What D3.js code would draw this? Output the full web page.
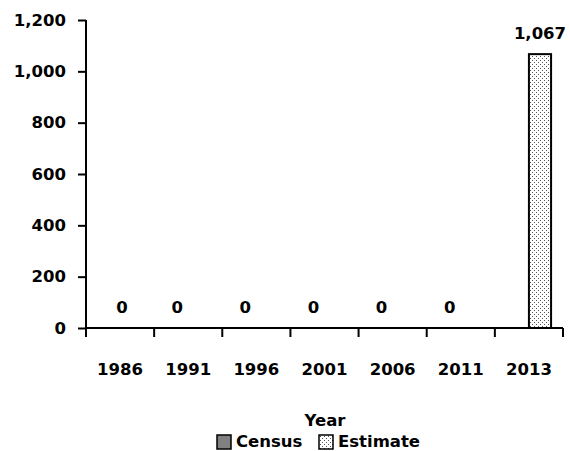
<!DOCTYPE html>
<html><head><meta charset="utf-8">
<script src="https://cdn.jsdelivr.net/npm/d3@7"></script>
<style>body{margin:0;background:#fff}svg{display:block}text{font-family:"DejaVu Sans",sans-serif;font-weight:bold;fill:#000}</style>
</head><body>
<svg id="c" width="570" height="451"></svg>
<script>
const years = ["1986","1991","1996","2001","2006","2011","2013"];
const series = ["Census","Estimate"];
const census = [0,0,0,0,0,0,null];
const estimate = [null,null,null,null,null,null,1067];
const yTicks = [0,200,400,600,800,1000,1200];
const xTitle = "Year";
const FS = 16.5;

const svg = d3.select("#c");
const defs = svg.append("defs");
const pat = defs.append("pattern").attr("id","dots").attr("width",4).attr("height",4).attr("patternUnits","userSpaceOnUse");
pat.append("rect").attr("width",4).attr("height",4).attr("fill","#fff");
pat.append("rect").attr("x",0).attr("y",0).attr("width",1).attr("height",1).attr("fill","#555");
pat.append("rect").attr("x",2).attr("y",2).attr("width",1).attr("height",1).attr("fill","#555");

const x = d3.scaleBand().domain(years).range([86,563]).padding(0);
const xs = d3.scaleBand().domain(series).range([x.bandwidth()*0.175, x.bandwidth()*0.825]);
const y = d3.scaleLinear().domain([0,1200]).range([328,20]);
const fills = {Census:"#808080", Estimate:"url(#dots)"};

const data = [];
years.forEach((yr,i)=>{
  [census[i],estimate[i]].forEach((v,j)=>{ if(v!==null) data.push({yr,s:series[j],v,i}); });
});

// bars
svg.append("g").selectAll("rect").data(data.filter(d=>d.v>0)).join("rect")
  .attr("x",d=>x(d.yr)+xs(d.s)).attr("width",xs.bandwidth())
  .attr("y",d=>y(d.v)).attr("height",d=>y(0)-y(d.v))
  .attr("fill",d=>fills[d.s]).attr("stroke","#000").attr("stroke-width",2);

// value labels
svg.append("g").selectAll("text").data(data).join("text")
  .attr("x",d=> d.i===0 ? x(d.yr)+x.bandwidth()/2+2 : x(d.yr)+xs(d.s)+xs.bandwidth()/2)
  .attr("y",d=>y(d.v)-15).attr("text-anchor","middle").attr("font-size",FS)
  .text(d=>d3.format(",")(d.v));

// y axis
const ya = svg.append("g").attr("transform","translate(86,0)")
  .call(d3.axisLeft(y).tickValues(yTicks).tickFormat(d3.format(",")).tickSize(8).tickPadding(12));
// x axis
const xa = svg.append("g").attr("transform","translate(0,328)")
  .call(d3.axisBottom(x).tickSize(0).tickPadding(28));
xa.selectAll(".tick").remove();
svg.append("g").attr("transform","translate(0,328)").selectAll("line")
  .data(years.concat(["end"])).join("line")
  .attr("x1",(d,i)=>86+i*x.step()).attr("x2",(d,i)=>86+i*x.step())
  .attr("y1",0).attr("y2",9).attr("stroke","#000").attr("stroke-width",2);
svg.append("g").selectAll("text.xl").data(years).join("text").attr("class","xl")
  .attr("x",d=>x(d)+x.bandwidth()/2).attr("y",375).attr("text-anchor","middle")
  .attr("font-size",FS).text(d=>d);
[ya,xa].forEach(a=>{a.select(".domain").attr("stroke","#000").attr("stroke-width",2);
  a.selectAll(".tick line").attr("stroke","#000").attr("stroke-width",2);
  a.selectAll("text").attr("font-size",FS).attr("font-family","DejaVu Sans").attr("font-weight","bold").attr("fill","#000");});
ya.select(".domain").attr("d","M0,20V328");
xa.select(".domain").attr("d","M86,0H563");

svg.append("text").attr("x",325).attr("y",426).attr("text-anchor","middle").attr("font-size",FS).text(xTitle);

// legend
const lg = svg.append("g");
const items = [{s:"Census",x:216},{s:"Estimate",x:318}];
items.forEach(it=>{
  lg.append("rect").attr("x",it.x+1).attr("y",435).attr("width",14).attr("height",14)
    .attr("fill",fills[it.s]).attr("stroke","#000").attr("stroke-width",1.5);
  lg.append("text").attr("x",it.x+20).attr("y",447).attr("font-size",FS).text(it.s);
});
</script>
</body></html>
